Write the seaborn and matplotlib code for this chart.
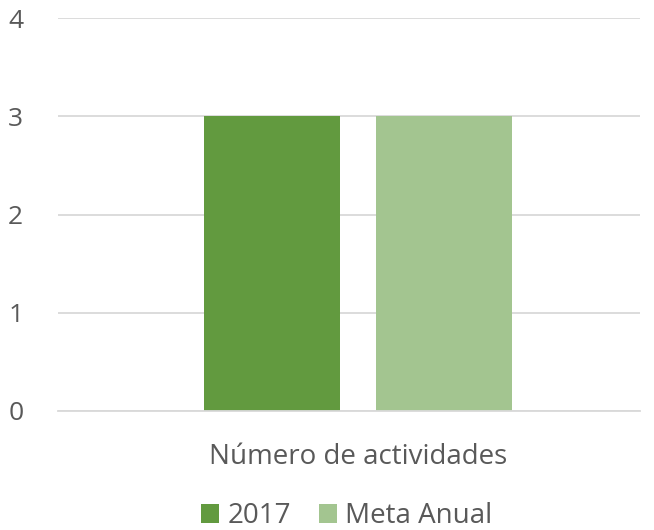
import matplotlib
matplotlib.use("Agg")
import matplotlib.pyplot as plt
import seaborn as sns
import pandas as pd

categories = ["Número de actividades"]
series = ["2017", "Meta Anual"]
values = [3, 3]
colors = ["#629A3F", "#A3C590"]
y_ticks = [0, 1, 2, 3, 4]

df = pd.DataFrame({
    "categoria": categories * len(series),
    "serie": series,
    "valor": values,
})

sns.set_theme(style="white")
plt.rcParams["font.family"] = ["Open Sans", "DejaVu Sans"]
text_color = "#595959"

fig = plt.figure(figsize=(6.54, 5.30), dpi=100)
ax = fig.add_axes([58 / 654, 1 - 411 / 530, (640 - 58) / 654, (411 - 18) / 530])

sns.barplot(data=df, x="categoria", y="valor", hue="serie", palette=colors,
            width=0.591, gap=0.209, ax=ax, saturation=1, legend=True,
            linewidth=0, edgecolor="none")

ax.set_ylim(0, 4)
ax.set_xlim(-300 / 582, 282 / 582)
ax.set_yticks(y_ticks)
ax.yaxis.grid(True, color="#D9D9D9", linewidth=1.3)
ax.set_axisbelow(True)
for s in ["top", "right", "left"]:
    ax.spines[s].set_visible(False)
ax.spines["bottom"].set_color("#D9D9D9")
ax.spines["bottom"].set_linewidth(1.3)
ax.set_xlabel("")
ax.set_ylabel("")
ax.tick_params(axis="y", length=0, pad=25, labelsize=19, labelcolor=text_color)
ax.tick_params(axis="x", length=0, pad=23, labelsize=20, labelcolor=text_color)

handles, labels = ax.get_legend_handles_labels()
ax.legend_.remove()
fig.legend(handles, labels, loc="center", bbox_to_anchor=(347 / 654, 1 - 516 / 530),
           ncol=2, frameon=False, fontsize=20, labelcolor=text_color,
           handlelength=0.65, handleheight=0.65, handletextpad=0.3, columnspacing=1.0)

fig.savefig("out.png", dpi=100)
